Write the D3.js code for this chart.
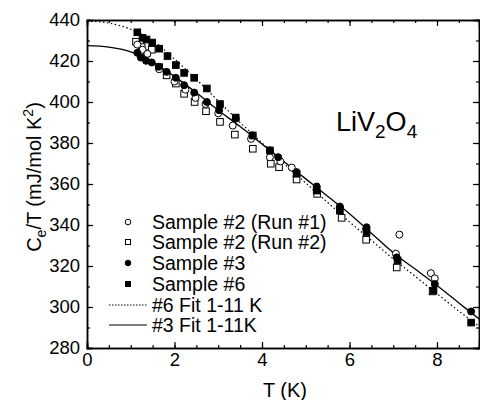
<!DOCTYPE html>
<html>
<head>
<meta charset="utf-8">
<script src="https://cdn.jsdelivr.net/npm/d3@7"></script>
<style>
  body { margin: 0; background: #fff; }
  text { font-family: "Liberation Sans", Arial, sans-serif; fill: #000; }
</style>
</head>
<body>
<div class="chart"></div>
<script>
// Data
var run1T = [1.15, 1.27, 1.38, 1.65, 2.0, 2.25, 2.48, 2.71, 3.0, 3.33, 3.75, 4.18, 4.42, 4.68, 5.25, 5.78, 6.38, 7.06, 7.14, 7.86, 7.95];
var run1C = [428, 425.5, 423.5, 416, 410, 406, 402, 399, 394.5, 388.5, 382, 373, 371, 368, 357, 348.5, 338, 326, 335.3, 316.5, 314];

var run2T = [1.12, 1.25, 1.36, 1.48, 1.65, 1.82, 2.03, 2.22, 2.46, 2.72, 3.04, 3.38, 3.79, 4.2, 4.39, 4.79, 5.26, 5.82, 6.38, 7.08, 7.9];
var run2C = [429.4, 426.8, 423.7, 425.5, 417, 413, 409, 404, 400, 395.5, 390.3, 384.1, 377.2, 369.9, 368.2, 362.2, 355.2, 343.5, 332.8, 319.3, 307.6];

var s3T = [1.15, 1.23, 1.35, 1.48, 1.64, 1.82, 2.03, 2.22, 2.45, 2.74, 3.02, 3.4, 3.78, 4.18, 4.37, 4.79, 5.25, 5.78, 6.39, 7.08, 7.95, 8.78];
var s3C = [424, 421.7, 420.1, 419.3, 417.2, 414.7, 411.8, 408.2, 404.6, 400, 396, 391.9, 383.7, 376.4, 373.1, 365.8, 358.8, 349, 338.9, 324.2, 311.2, 297.8];

var s6T = [1.15, 1.27, 1.36, 1.49, 1.65, 1.84, 2.03, 2.22, 2.45, 2.74, 3.04, 3.4, 3.79, 4.18, 4.79, 5.25, 5.78, 6.39, 7.1, 7.92, 8.78];
var s6C = [434, 431.3, 430.5, 429, 426, 422.4, 418, 414.2, 411.8, 406.6, 399, 392.4, 383.7, 376.4, 365, 356.8, 347, 336.4, 322.6, 308, 292.4];

var fitT = [0, 0.5, 1, 1.5, 2, 2.5, 3, 3.5, 4, 4.5, 5, 5.5, 6, 6.5, 7, 7.5, 8, 8.5, 9];
var fit6C = [439.5, 438.5, 435.5, 430, 421, 411, 400.5, 390, 380, 370, 360.5, 351, 341.5, 332.5, 323.5, 315, 306.5, 298, 290];
var fit3C = [427.5, 426.8, 424.5, 419.5, 412.5, 404.5, 396, 388, 379.5, 371, 362.5, 354, 345.5, 336, 326.5, 318.5, 310.5, 302, 293.5];

var xTicks = [0, 2, 4, 6, 8];
var yTicks = [280, 300, 320, 340, 360, 380, 400, 420, 440];

var legendLabels = ["Sample #2 (Run #1)", "Sample #2 (Run #2)", "Sample #3", "Sample #6", "#6 Fit 1-11 K", "#3 Fit 1-11K"];

var svgWidth = 480;
var svgHeight = 400;
var margin = { top: 20, right: 1, bottom: 52, left: 87 };
var width = svgWidth - margin.left - margin.right;
var height = svgHeight - margin.top - margin.bottom;

var svg = d3.select(".chart")
  .append("svg")
  .attr("width", svgWidth)
  .attr("height", svgHeight);

var chartGroup = svg.append("g")
  .attr("transform", `translate(${margin.left}, ${margin.top})`);

// scales
var xScale = d3.scaleLinear().domain([0, 8.96]).range([0, width]);
var yScale = d3.scaleLinear().domain([280, 440]).range([height, 0]);

svg.append("defs").append("clipPath").attr("id", "clip")
  .append("rect").attr("width", width).attr("height", height);

// axes, ticks all pointing inside
function minorTicks(lo, hi, step) {
  var out = [];
  for (var v = lo; v <= hi + 1e-9; v += step) out.push(+v.toFixed(3));
  return out;
}
var xMinor = minorTicks(0, 8.5, 0.5);
var yMinor = minorTicks(280, 440, 10);

chartGroup.append("g")
  .attr("transform", `translate(0, ${height})`)
  .call(d3.axisBottom(xScale).tickValues(xMinor).tickSize(-3).tickFormat(""));
chartGroup.append("g")
  .attr("transform", `translate(0, ${height})`)
  .call(d3.axisBottom(xScale).tickValues(xTicks).tickSize(-6).tickPadding(5).tickFormat(d3.format("d")));
chartGroup.append("g")
  .call(d3.axisTop(xScale).tickValues(xMinor).tickSize(-3).tickFormat(""));
chartGroup.append("g")
  .call(d3.axisTop(xScale).tickValues(xTicks).tickSize(-6).tickFormat(""));

chartGroup.append("g")
  .call(d3.axisLeft(yScale).tickValues(yMinor).tickSize(-3).tickFormat(""));
chartGroup.append("g")
  .call(d3.axisLeft(yScale).tickValues(yTicks).tickSize(-6).tickPadding(7).tickFormat(d3.format("d")));
chartGroup.append("g")
  .attr("transform", `translate(${width}, 0)`)
  .call(d3.axisRight(yScale).tickValues(yMinor).tickSize(-3).tickFormat(""));
chartGroup.append("g")
  .attr("transform", `translate(${width}, 0)`)
  .call(d3.axisRight(yScale).tickValues(yTicks).tickSize(-6).tickFormat(""));

chartGroup.selectAll(".domain").attr("stroke", "#000").attr("stroke-width", 1.5);
chartGroup.selectAll(".tick line").attr("stroke", "#000").attr("stroke-width", 1.2);
chartGroup.selectAll(".tick text")
  .style("font-size", "18.5px")
  .style("font-family", "'Liberation Sans', Arial, sans-serif")
  .attr("fill", "#000");

// fit curves
var line = d3.line()
  .x(d => xScale(d[0]))
  .y(d => yScale(d[1]))
  .curve(d3.curveMonotoneX);

var plot = chartGroup.append("g").attr("clip-path", "url(#clip)");

plot.append("path")
  .datum(fitT.map((t, i) => [t, fit6C[i]]))
  .attr("d", line)
  .attr("fill", "none")
  .attr("stroke", "#000")
  .attr("stroke-width", 1.2)
  .attr("stroke-dasharray", "1.5,2.5");

plot.append("path")
  .datum(fitT.map((t, i) => [t, fit3C[i]]))
  .attr("d", line)
  .attr("fill", "none")
  .attr("stroke", "#000")
  .attr("stroke-width", 1.3);

// markers
function squares(T, C, fill) {
  plot.append("g").selectAll("rect")
    .data(T.map((t, i) => [t, C[i]]))
    .enter()
    .append("rect")
    .attr("x", d => xScale(d[0]) - 3.3)
    .attr("y", d => yScale(d[1]) - 3.3)
    .attr("width", 6.6)
    .attr("height", 6.6)
    .attr("fill", fill)
    .attr("stroke", "#000")
    .attr("stroke-width", 1);
}
function circles(T, C, fill) {
  plot.append("g").selectAll("circle")
    .data(T.map((t, i) => [t, C[i]]))
    .enter()
    .append("circle")
    .attr("cx", d => xScale(d[0]))
    .attr("cy", d => yScale(d[1]))
    .attr("r", 3.5)
    .attr("fill", fill)
    .attr("stroke", "#000")
    .attr("stroke-width", 1);
}
squares(run2T, run2C, "#fff");
circles(run1T, run1C, "#fff");
squares(s6T, s6C, "#000");
circles(s3T, s3C, "#000");

// legend
var legend = svg.append("g");
var rowY = [222, 242, 263, 284, 305, 325];
legend.append("circle").attr("cx", 128).attr("cy", rowY[0]).attr("r", 2.8)
  .attr("fill", "#fff").attr("stroke", "#000");
legend.append("rect").attr("x", 125.5).attr("y", rowY[1] - 2.5).attr("width", 5).attr("height", 5)
  .attr("fill", "#fff").attr("stroke", "#000");
legend.append("circle").attr("cx", 128).attr("cy", rowY[2]).attr("r", 2.8)
  .attr("fill", "#000").attr("stroke", "#000");
legend.append("rect").attr("x", 125.5).attr("y", rowY[3] - 2.5).attr("width", 5).attr("height", 5)
  .attr("fill", "#000").attr("stroke", "#000");
legend.append("line").attr("x1", 109).attr("x2", 147).attr("y1", rowY[4]).attr("y2", rowY[4])
  .attr("stroke", "#000").attr("stroke-width", 1).attr("stroke-dasharray", "1.5,1.5");
legend.append("line").attr("x1", 109).attr("x2", 147).attr("y1", rowY[5]).attr("y2", rowY[5])
  .attr("stroke", "#000").attr("stroke-width", 1.2);
legend.selectAll("text")
  .data(legendLabels)
  .enter()
  .append("text")
  .attr("x", 152)
  .attr("y", (d, i) => rowY[i] + 7)
  .style("font-size", "19.5px")
  .text(d => d);

// compound label
var comp = svg.append("text")
  .attr("x", 336)
  .attr("y", 131)
  .style("font-size", "27px");
comp.append("tspan").text("LiV");
comp.append("tspan").attr("dy", 7).style("font-size", "19px").text("2");
comp.append("tspan").attr("dy", -7).text("O");
comp.append("tspan").attr("dy", 7).style("font-size", "19px").text("4");

// axis titles
svg.append("text")
  .attr("x", 285)
  .attr("y", 397)
  .attr("text-anchor", "middle")
  .style("font-size", "20px")
  .text("T  (K)");

var yTitle = svg.append("text")
  .attr("transform", "translate(41, 177) rotate(-90)")
  .attr("text-anchor", "middle")
  .style("font-size", "20px");
yTitle.append("tspan").text("C");
yTitle.append("tspan").attr("dy", 5).style("font-size", "14px").text("e");
yTitle.append("tspan").attr("dy", -5).text("/T (mJ/mol K");
yTitle.append("tspan").attr("dy", -8).style("font-size", "14px").text("2");
yTitle.append("tspan").attr("dy", 8).text(")");
</script>
</body>
</html>
